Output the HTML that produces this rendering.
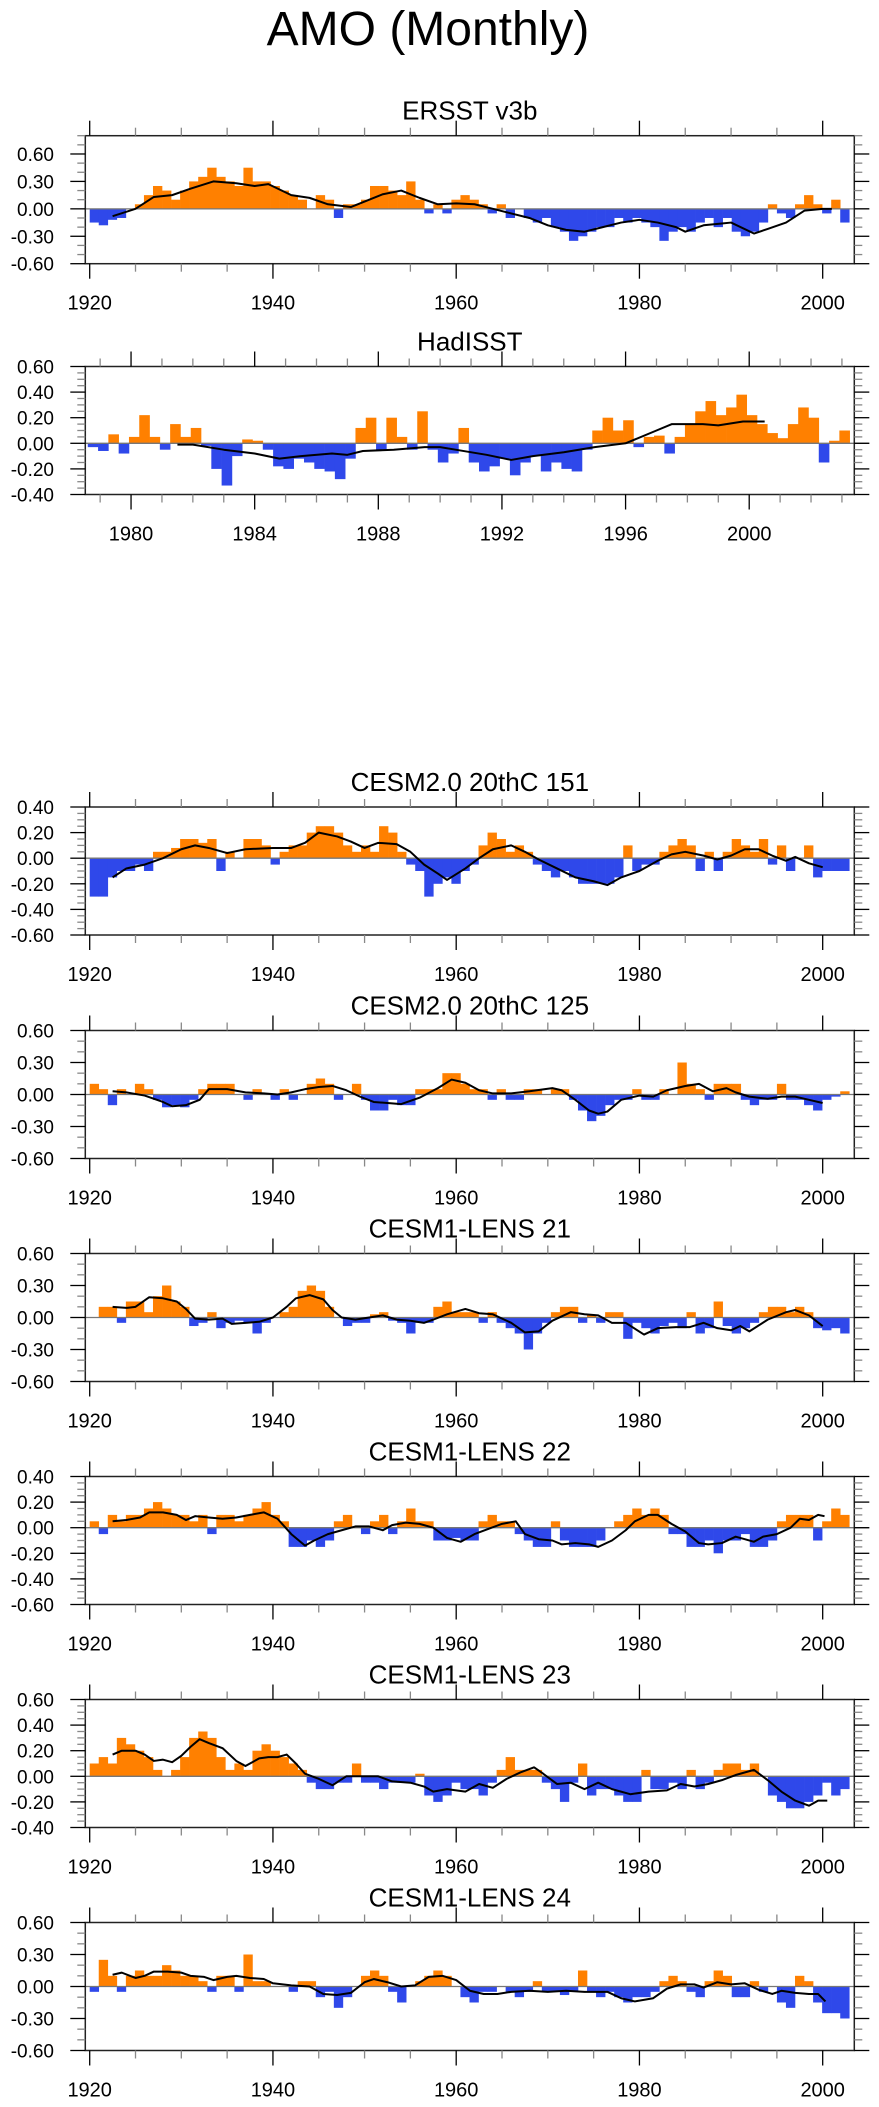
<!DOCTYPE html>
<html><head><meta charset="utf-8"><style>
html,body{margin:0;padding:0;background:#fff;}
svg{display:block;font-family:"Liberation Sans",Arial,sans-serif;}
</style></head><body>
<svg id="chart" width="879" height="2107" viewBox="0 0 879 2107" xmlns="http://www.w3.org/2000/svg">
<text x="428" y="45" font-size="48" text-anchor="middle" fill="#000">AMO (Monthly)</text>
</svg>
<script>
// ---------- data arrays (annual bars 1920.. ; smoothed line points) ----------
const ersstVals=[-0.15,-0.18,-0.12,-0.1,0.0,0.05,0.15,0.25,0.2,0.1,0.2,0.3,0.35,0.45,0.35,0.3,0.25,0.45,0.3,0.3,0.25,0.2,0.15,0.1,0.0,0.15,0.1,-0.1,0.05,0.05,0.1,0.25,0.25,0.2,0.15,0.3,0.1,-0.05,0.05,-0.05,0.1,0.15,0.1,0.05,-0.05,0.05,-0.1,0.0,-0.1,-0.15,-0.1,-0.2,-0.25,-0.35,-0.3,-0.25,-0.2,-0.2,-0.1,-0.15,-0.1,-0.15,-0.2,-0.35,-0.25,-0.2,-0.25,-0.15,-0.1,-0.2,-0.1,-0.25,-0.3,-0.25,-0.15,0.05,-0.05,-0.1,0.05,0.15,0.05,-0.05,0.1,-0.15];
const ersstLineYears=[1922.5,1925,1927,1929,1931,1933.5,1936,1938,1939.5,1942,1944,1946,1948.5,1950,1952,1954,1956,1958,1960,1962,1964,1966,1968,1970,1972,1974,1976,1978,1980,1982,1984,1985,1987,1989,1990,1992.5,1994,1996,1998,2000,2001];
const ersstLineVals=[-0.08,0.0,0.13,0.15,0.22,0.3,0.28,0.25,0.27,0.15,0.12,0.05,0.02,0.08,0.16,0.2,0.12,0.05,0.06,0.05,0.0,-0.05,-0.1,-0.18,-0.23,-0.25,-0.2,-0.15,-0.12,-0.15,-0.2,-0.25,-0.18,-0.16,-0.15,-0.27,-0.22,-0.15,-0.02,0.0,0.0];

const hadVals=[-0.03,-0.06,0.07,-0.08,0.05,0.22,0.05,-0.05,0.15,0.05,0.12,-0.02,-0.2,-0.33,-0.1,0.03,0.02,-0.05,-0.18,-0.2,-0.12,-0.15,-0.2,-0.22,-0.28,-0.12,0.12,0.2,-0.05,0.2,0.05,-0.05,0.25,-0.05,-0.15,-0.08,0.12,-0.15,-0.22,-0.18,-0.12,-0.25,-0.15,-0.1,-0.22,-0.15,-0.2,-0.22,-0.05,0.1,0.2,0.1,0.18,-0.03,0.05,0.06,-0.08,0.05,0.15,0.25,0.33,0.22,0.28,0.38,0.22,0.15,0.08,0.04,0.15,0.28,0.2,-0.15,0.02,0.1];
const hadLineYears=[1981.5,1982,1983,1984,1984.8,1985.5,1986.5,1987,1987.5,1988.5,1989.5,1990,1990.5,1991.5,1992.3,1993,1994,1995,1996,1997,1997.5,1998.5,1999,1999.8,2000.5];
const hadLineVals=[-0.01,-0.01,-0.05,-0.08,-0.12,-0.1,-0.08,-0.09,-0.06,-0.05,-0.03,-0.03,-0.05,-0.09,-0.13,-0.1,-0.07,-0.03,0.0,0.1,0.15,0.15,0.14,0.17,0.17];

const c151Vals=[-0.3,-0.3,-0.15,-0.1,-0.1,-0.05,-0.1,0.05,0.05,0.08,0.15,0.15,0.12,0.15,-0.1,0.05,0.0,0.15,0.15,0.1,-0.05,0.05,0.1,0.1,0.2,0.25,0.25,0.2,0.1,0.05,0.1,0.05,0.25,0.2,0.05,-0.05,-0.1,-0.3,-0.2,-0.15,-0.2,-0.1,-0.05,0.1,0.2,0.15,0.05,0.1,0.05,-0.05,-0.1,-0.15,-0.1,-0.15,-0.2,-0.2,-0.2,-0.2,-0.15,0.1,-0.1,-0.05,-0.05,0.05,0.1,0.15,0.1,-0.1,0.05,-0.1,0.05,0.15,0.1,0.05,0.15,-0.05,0.1,-0.1,0.0,0.1,-0.15,-0.1,-0.1,-0.1];
const c151LineYears=[1922.5,1924,1926,1928,1930,1931.5,1933,1935,1937,1940,1942,1943.5,1945,1947,1948.5,1950,1951.5,1953.5,1955,1956.5,1958,1959,1961,1962.5,1964,1966,1967.5,1969,1971,1973,1975,1976.5,1978,1980,1982,1983.5,1985,1987,1988.5,1990,1991.5,1993,1994.5,1996,1997,1998.5,2000];
const c151LineVals=[-0.15,-0.08,-0.05,0.0,0.07,0.1,0.08,0.04,0.07,0.08,0.08,0.12,0.2,0.17,0.13,0.08,0.12,0.11,0.05,-0.05,-0.12,-0.17,-0.08,0.0,0.07,0.1,0.05,-0.01,-0.08,-0.15,-0.18,-0.21,-0.15,-0.1,-0.02,0.03,0.05,0.02,-0.01,0.02,0.07,0.07,0.02,-0.02,0.01,-0.04,-0.07];

const c125Vals=[0.1,0.05,-0.1,0.05,0.0,0.1,0.05,-0.05,-0.12,-0.1,-0.12,-0.05,0.05,0.1,0.1,0.1,0.0,-0.05,0.05,0.0,-0.05,0.05,-0.05,0.0,0.1,0.15,0.1,-0.05,0.0,0.1,-0.05,-0.15,-0.15,-0.05,-0.1,-0.1,0.05,0.05,0.05,0.2,0.2,0.1,0.05,0.05,-0.05,0.05,-0.05,-0.05,0.05,0.05,0.0,0.05,0.05,-0.05,-0.15,-0.25,-0.2,-0.1,-0.05,-0.05,0.05,-0.05,-0.05,0.05,0.0,0.3,0.1,0.05,-0.05,0.1,0.1,0.1,-0.05,-0.1,-0.05,-0.05,0.1,-0.05,-0.05,-0.1,-0.15,-0.05,-0.02,0.03];
const c125LineYears=[1922.5,1924,1926,1928,1929,1930.5,1932,1933,1935,1937,1939,1940.5,1942,1943.5,1945,1946.5,1948,1949.5,1951,1952.5,1954,1956,1958,1959.5,1961,1962.5,1964,1966,1968,1970.5,1971.5,1973,1974.5,1975.5,1976.5,1978,1980,1981.5,1983,1985,1986.5,1988,1989.5,1990.5,1992,1994,1995.5,1997,1998.5,2000];
const c125LineVals=[0.03,0.02,-0.01,-0.07,-0.11,-0.1,-0.05,0.05,0.05,0.02,0.01,0.0,0.02,0.05,0.07,0.08,0.04,-0.02,-0.07,-0.08,-0.09,-0.03,0.06,0.14,0.11,0.04,0.01,0.01,0.03,0.06,0.04,-0.05,-0.15,-0.18,-0.16,-0.05,-0.01,-0.02,0.04,0.08,0.1,0.03,0.06,0.02,-0.02,-0.04,-0.02,-0.02,-0.05,-0.08];

const l21Vals=[0.0,0.1,0.1,-0.05,0.15,0.15,0.05,0.2,0.3,0.15,0.1,-0.08,-0.05,0.05,-0.1,-0.05,-0.03,-0.05,-0.15,-0.05,0.0,0.05,0.1,0.25,0.3,0.25,0.1,0.0,-0.08,-0.05,-0.05,0.03,0.05,-0.03,-0.05,-0.15,-0.05,-0.05,0.1,0.15,0.05,0.05,0.05,-0.05,0.05,-0.05,-0.1,-0.15,-0.3,-0.15,-0.05,0.05,0.1,0.1,-0.05,0.02,-0.05,0.05,0.05,-0.2,-0.05,-0.1,-0.15,-0.08,-0.05,-0.1,0.05,-0.15,-0.1,0.15,-0.08,-0.15,-0.1,-0.05,0.05,0.1,0.1,0.05,0.1,0.05,-0.1,-0.12,-0.1,-0.15];
const l21LineYears=[1922.5,1924,1925,1926.5,1928,1929.5,1930.5,1931.5,1933,1934.5,1935.5,1937,1938.5,1940,1941.5,1942.5,1944,1945.5,1946.5,1947.5,1949,1950.5,1952,1953.5,1955,1956.5,1957.5,1959,1961,1962.5,1964,1966,1967.5,1969,1970.5,1972.5,1974,1975.5,1977,1978.5,1980.5,1982,1984,1985.5,1987,1988.5,1990,1991,1992,1994,1996,1997,1998.5,2000];
const l21LineVals=[0.1,0.09,0.1,0.19,0.18,0.15,0.08,-0.01,-0.02,-0.01,-0.06,-0.05,-0.04,0.0,0.1,0.18,0.21,0.17,0.07,0.0,-0.02,0.0,0.02,-0.02,-0.03,-0.05,-0.02,0.03,0.08,0.04,0.03,-0.05,-0.14,-0.13,-0.03,0.05,0.03,0.02,-0.05,-0.05,-0.16,-0.1,-0.09,-0.09,-0.05,-0.1,-0.12,-0.08,-0.13,-0.02,0.05,0.07,0.02,-0.08];

const l22Vals=[0.05,-0.05,0.1,0.05,0.1,0.1,0.15,0.2,0.15,0.1,0.1,0.05,0.1,-0.05,0.1,0.1,0.05,0.1,0.15,0.2,0.1,0.05,-0.15,-0.15,-0.1,-0.15,-0.1,0.05,0.1,0.0,-0.05,0.05,0.1,-0.05,0.05,0.15,0.05,0.05,-0.1,-0.1,-0.08,-0.1,-0.1,0.05,0.1,0.05,0.05,-0.05,-0.1,-0.15,-0.15,0.05,-0.1,-0.15,-0.15,-0.15,-0.1,0.0,0.05,0.1,0.15,0.1,0.15,0.1,-0.05,-0.05,-0.15,-0.15,-0.1,-0.2,-0.1,-0.1,-0.05,-0.15,-0.15,-0.1,0.05,0.1,0.1,0.1,-0.1,0.05,0.15,0.1];
const l22LineYears=[1922.5,1924,1925.5,1926.5,1928,1929.5,1930.5,1931.5,1933,1934.5,1936,1937.5,1939,1940.5,1942,1943.5,1944.5,1946,1947.5,1949,1950.5,1952,1953,1954.5,1956,1957.5,1959,1960.5,1962,1963.5,1965,1966.5,1967.5,1969,1970.5,1971.5,1973,1974.5,1975.5,1977,1978.5,1979.5,1981,1982,1983.5,1985,1986.5,1987.5,1989,1990.5,1991.5,1992.5,1993.5,1995,1996.5,1997.5,1998.5,1999.5,2000.2];
const l22LineVals=[0.05,0.06,0.08,0.12,0.12,0.1,0.06,0.09,0.08,0.07,0.08,0.1,0.12,0.07,-0.05,-0.14,-0.1,-0.05,-0.02,0.01,0.01,-0.02,0.02,0.04,0.03,0.0,-0.08,-0.11,-0.05,-0.01,0.03,0.05,-0.05,-0.09,-0.1,-0.13,-0.12,-0.13,-0.15,-0.1,-0.02,0.05,0.1,0.1,0.03,-0.03,-0.12,-0.13,-0.12,-0.07,-0.09,-0.11,-0.07,-0.05,0.0,0.07,0.06,0.1,0.09];

const l23Vals=[0.1,0.15,0.1,0.3,0.25,0.2,0.15,0.05,0.0,0.05,0.15,0.3,0.35,0.3,0.15,0.05,0.1,0.05,0.2,0.25,0.2,0.15,0.1,0.05,-0.05,-0.1,-0.1,-0.05,-0.05,0.1,-0.05,-0.05,-0.1,-0.05,-0.05,-0.05,0.02,-0.15,-0.2,-0.15,-0.05,-0.1,-0.1,-0.15,-0.05,0.05,0.15,0.05,0.05,0.05,-0.05,-0.1,-0.2,-0.05,0.1,-0.15,-0.1,-0.1,-0.15,-0.2,-0.2,0.05,-0.1,-0.1,-0.05,-0.1,0.05,-0.1,-0.05,0.05,0.1,0.1,0.05,0.1,0.0,-0.15,-0.2,-0.25,-0.25,-0.2,-0.15,-0.05,-0.15,-0.1];
const l23LineYears=[1922.5,1923.5,1925,1926,1927,1928,1929,1930,1931,1932,1933,1934.5,1936,1937,1938.5,1939.5,1940.5,1941.5,1942.5,1943.5,1945,1946.5,1948,1950,1951.5,1953,1955,1956.5,1957.5,1959,1961,1962.5,1964,1965.5,1967,1968.5,1969.5,1971,1972.5,1974,1975.5,1977,1979,1981,1983,1984.5,1986,1987.5,1989,1990.5,1992.5,1994,1995.5,1997,1998.5,1999.5,2000.5];
const l23LineVals=[0.17,0.2,0.2,0.17,0.12,0.13,0.11,0.16,0.23,0.29,0.26,0.22,0.12,0.08,0.14,0.15,0.15,0.17,0.1,0.02,-0.02,-0.07,0.0,0.0,0.0,-0.04,-0.05,-0.08,-0.12,-0.1,-0.12,-0.06,-0.09,-0.02,0.03,0.07,0.02,-0.06,-0.05,-0.1,-0.05,-0.1,-0.14,-0.12,-0.11,-0.06,-0.08,-0.06,-0.03,0.01,0.05,-0.03,-0.12,-0.19,-0.23,-0.19,-0.19];

const l24Vals=[-0.05,0.25,0.1,-0.05,0.1,0.15,0.1,0.1,0.2,0.15,0.1,0.1,0.05,-0.05,0.1,0.1,-0.05,0.3,0.05,0.05,0.0,0.0,-0.05,0.05,0.05,-0.1,-0.05,-0.2,-0.1,0.0,0.1,0.15,0.1,-0.05,-0.15,0.0,0.05,0.1,0.15,0.1,0.0,-0.1,-0.15,-0.05,-0.05,0.0,-0.05,-0.1,-0.05,0.05,-0.05,-0.05,-0.08,-0.05,0.15,-0.05,-0.1,-0.05,-0.1,-0.15,-0.1,-0.1,-0.05,0.05,0.1,0.05,-0.05,-0.1,0.05,0.15,0.1,-0.1,-0.1,0.05,-0.05,0.0,-0.15,-0.2,0.1,0.05,-0.15,-0.25,-0.25,-0.3];
const l24LineYears=[1922.5,1923.5,1925,1926,1927,1928.5,1930,1931,1932.5,1933.5,1935,1936,1937.5,1939,1940,1942,1944,1945.5,1947,1948.5,1950,1951,1952.5,1954,1955.5,1957,1958.5,1960,1961.5,1963,1964.5,1966,1968,1970,1972,1974,1976.5,1978,1979.5,1981.5,1983,1984.5,1986,1987,1988.5,1990,1991.5,1993,1994.5,1995.5,1997,1998.5,1999.5,2000.3];
const l24LineVals=[0.11,0.13,0.08,0.1,0.14,0.14,0.13,0.1,0.09,0.06,0.09,0.1,0.08,0.07,0.03,0.01,0.0,-0.07,-0.08,-0.06,0.04,0.07,0.04,0.0,0.01,0.09,0.1,0.06,-0.04,-0.07,-0.07,-0.05,-0.04,-0.05,-0.04,-0.05,-0.05,-0.11,-0.14,-0.11,-0.02,0.02,0.02,-0.01,0.04,0.02,0.03,-0.03,-0.07,-0.04,-0.06,-0.07,-0.07,-0.14];

// ---------- rendering ----------
const NS='http://www.w3.org/2000/svg';
const svg=document.getElementById('chart');
const X0=85.3, X1=854.3, H=128;
function mk(tag,attrs,parent){const e=document.createElementNS(NS,tag);for(const k in attrs)e.setAttribute(k,attrs[k]);(parent||svg).appendChild(e);return e;}

const panels=[
 {name:'ersst',title:'ERSST v3b',top:135.7,ymin:-0.6,ymax:0.8,labels:[-0.6,-0.3,0,0.3,0.6],minor:0.1,dec:2,xmin:1919.52,xmax:2003.45,xMaj:20,xMin:5,xFirst:1920,barStart:1920,barEnd:2002.9,vals:ersstVals,ly:ersstLineYears,lv:ersstLineVals},
 {name:'hadisst',title:'HadISST',top:366.5,ymin:-0.4,ymax:0.6,labels:[-0.4,-0.2,0,0.2,0.4,0.6],minor:0.05,dec:2,xmin:1978.52,xmax:2003.4,xMaj:4,xMin:1,xFirst:1980,barStart:1978.6,barEnd:2003.25,vals:hadVals,ly:hadLineYears,lv:hadLineVals},
 {name:'cesm2-151',title:'CESM2.0 20thC 151',top:807,ymin:-0.6,ymax:0.4,labels:[-0.6,-0.4,-0.2,0,0.2,0.4],minor:0.05,vals:c151Vals,ly:c151LineYears,lv:c151LineVals},
 {name:'cesm2-125',title:'CESM2.0 20thC 125',top:1030.5,ymin:-0.6,ymax:0.6,labels:[-0.6,-0.3,0,0.3,0.6],minor:0.1,vals:c125Vals,ly:c125LineYears,lv:c125LineVals},
 {name:'cesm1-lens-21',title:'CESM1-LENS 21',top:1253.5,ymin:-0.6,ymax:0.6,labels:[-0.6,-0.3,0,0.3,0.6],minor:0.1,vals:l21Vals,ly:l21LineYears,lv:l21LineVals},
 {name:'cesm1-lens-22',title:'CESM1-LENS 22',top:1476.5,ymin:-0.6,ymax:0.4,labels:[-0.6,-0.4,-0.2,0,0.2,0.4],minor:0.05,vals:l22Vals,ly:l22LineYears,lv:l22LineVals},
 {name:'cesm1-lens-23',title:'CESM1-LENS 23',top:1699.5,ymin:-0.4,ymax:0.6,labels:[-0.4,-0.2,0,0.2,0.4,0.6],minor:0.05,vals:l23Vals,ly:l23LineYears,lv:l23LineVals},
 {name:'cesm1-lens-24',title:'CESM1-LENS 24',top:1922.5,ymin:-0.6,ymax:0.6,labels:[-0.6,-0.3,0,0.3,0.6],minor:0.1,vals:l24Vals,ly:l24LineYears,lv:l24LineVals}
];

panels.forEach(p=>{
 const xmin=p.xmin||1919.52, xmax=p.xmax||2003.45;
 const xMaj=p.xMaj||20, xMinS=p.xMin||5, xFirst=p.xFirst||1920;
 const bs=p.barStart||1920, be=p.barEnd||2002.9;
 const top=p.top, bot=top+H;
 const xs=v=>X0+(v-xmin)/(xmax-xmin)*(X1-X0);
 const ys=v=>bot-(v-p.ymin)/(p.ymax-p.ymin)*H;
 const g=mk('g',{});
 
 
 const t=mk('text',{x:(X0+X1)/2,y:top-16,'font-size':26,'text-anchor':'middle',fill:'#000'},g);
 
 
 t.textContent=p.title;
 // bars
 const bg=mk('g',{},g);
 
 
 const step=(be-bs)/p.vals.length;
 const y0=ys(0);
 p.vals.forEach((v,i)=>{
  const xa=xs(bs+i*step), xb=xs(bs+(i+1)*step);
  const yv=ys(v);
  const r=mk('rect',{x:xa.toFixed(2),y:Math.min(yv,y0).toFixed(2),width:(xb-xa+0.3).toFixed(2),height:Math.abs(y0-yv).toFixed(2),fill:v>=0?'#FF8000':'#2F48EA'},bg);
  
  
 });
 // zero line
 const z=mk('line',{x1:X0,x2:X1+15,y1:y0,y2:y0,stroke:'#777','stroke-width':1.3},g);
 
 
 // smoothed line
 const pts=p.ly.map((yr,i)=>xs(yr).toFixed(2)+','+ys(p.lv[i]).toFixed(2)).join(' ');
 const pl=mk('polyline',{points:pts,fill:'none',stroke:'#000','stroke-width':2,'stroke-linejoin':'round'},g);
 
 
 // frame
 const fr=mk('rect',{x:X0,y:top,width:X1-X0,height:H,fill:'none',stroke:'#222','stroke-width':1.5},g);
 
 
 // y ticks
 const nMin=Math.round((p.ymax-p.ymin)/p.minor);
 for(let k=0;k<=nMin;k++){
  const v=p.ymin+k*p.minor, yy=ys(v);
  const isMaj=p.labels.some(l=>Math.abs(l-v)<1e-6);
  const len=isMaj?15:8;
  mk('line',{x1:X0-len,x2:X0,y1:yy,y2:yy,stroke:isMaj?'#000':'#888','stroke-width':1.3},g);
  mk('line',{x1:X1,x2:X1+len,y1:yy,y2:yy,stroke:isMaj?'#000':'#888','stroke-width':1.3},g);
 }
 p.labels.forEach(l=>{
  const tl=mk('text',{x:54,y:ys(l)+7,'font-size':19,'text-anchor':'end',fill:'#000'},g);
  
  
  tl.textContent=l.toFixed(2);
 });
 // x ticks
 for(let yr=Math.ceil(xmin/xMinS)*xMinS; yr<=xmax; yr+=xMinS){
  const xx=xs(yr);
  const isMaj=((yr-xFirst)%xMaj+xMaj)%xMaj===0;
  const len=isMaj?15:8;
  mk('line',{x1:xx,x2:xx,y1:top-len,y2:top,stroke:isMaj?'#000':'#888','stroke-width':1.3},g);
  mk('line',{x1:xx,x2:xx,y1:bot,y2:bot+len,stroke:isMaj?'#000':'#888','stroke-width':1.3},g);
  if(isMaj){
   const tx=mk('text',{x:xx,y:bot+46,'font-size':20,'text-anchor':'middle',fill:'#000'},g);
   
   
   tx.textContent=String(yr);
  }
 }
});
</script>
</body></html>
